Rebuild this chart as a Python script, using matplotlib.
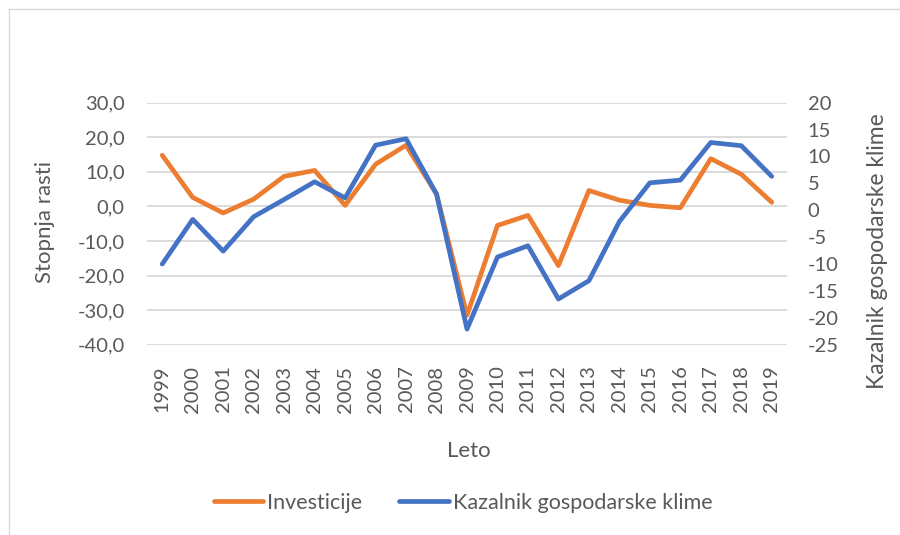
import matplotlib
matplotlib.use("Agg")
import matplotlib.pyplot as plt
from matplotlib.lines import Line2D
from matplotlib.ticker import FuncFormatter, MultipleLocator

plt.rcParams['font.family'] = ['Lato', 'DejaVu Sans']

years = ['1999', '2000', '2001', '2002', '2003', '2004', '2005', '2006', '2007', '2008',
         '2009', '2010', '2011', '2012', '2013', '2014', '2015', '2016', '2017', '2018', '2019']
investicije = [14.8, 2.6, -1.9, 2.1, 8.7, 10.4, 0.3, 12.2, 17.7, 3.6,
               -31.5, -5.5, -2.6, -17.1, 4.6, 1.8, 0.3, -0.4, 13.8, 9.3, 1.2]
kazalnik = [-10.0, -1.7, -7.6, -1.2, 2.0, 5.3, 2.3, 12.1, 13.3, 3.0,
            -22.1, -8.7, -6.6, -16.5, -13.1, -2.1, 5.1, 5.6, 12.6, 12.0, 6.3]

orange = '#ED7D31'
blue = '#4472C4'
txt = '#595959'
grid = '#D9D9D9'

W, H = 900, 535
fig = plt.figure(figsize=(9, 5.35), dpi=100)

# chart-area border (left and top edges visible)
fig.lines.append(Line2D([9 / W, 9 / W], [0, 1 - 8.5 / H], transform=fig.transFigure,
                        color='#D9D9D9', linewidth=1))
fig.lines.append(Line2D([9 / W, 1], [1 - 8.5 / H] * 2, transform=fig.transFigure,
                        color='#D9D9D9', linewidth=1))

left, right, top, bottom = 147, 787, 102.7, 344.7
ax = fig.add_axes([left / W, 1 - bottom / H, (right - left) / W, (bottom - top) / H])
ax2 = ax.twinx()

x = list(range(len(years)))
ax.plot(x, investicije, color=orange, linewidth=3.4, solid_capstyle='round', solid_joinstyle='round',
        label='Investicije', zorder=3)
ax2.plot(x, kazalnik, color=blue, linewidth=3.4, solid_capstyle='round', solid_joinstyle='round',
         label='Kazalnik gospodarske klime', zorder=3)

ax.set_xlim(-0.5, len(years) - 0.5)
ax.set_ylim(-40, 30)
ax2.set_ylim(-25, 20)
ax.yaxis.set_major_locator(MultipleLocator(10))
ax2.yaxis.set_major_locator(MultipleLocator(5))
ax.yaxis.set_major_formatter(FuncFormatter(lambda v, p: f"{v:.1f}".replace('.', ',')))
ax2.yaxis.set_major_formatter(FuncFormatter(lambda v, p: f"{int(round(v))}"))

ax.set_xticks(x)
ax.set_xticklabels(years, rotation=90)

ax.grid(axis='y', color=grid, linewidth=1.3)
ax.set_axisbelow(True)
for a in (ax, ax2):
    for s in a.spines.values():
        s.set_visible(False)
    a.tick_params(length=0, colors=txt, labelsize=14.5)
ax.tick_params(axis='y', pad=16)
ax2.tick_params(axis='y', pad=15)
ax.tick_params(axis='x', pad=15)

fig.text(45 / W, 1 - 222 / H, 'Stopnja rasti', rotation=90, ha='center', va='center',
         fontsize=16, color=txt)
fig.text(878 / W, 1 - 251 / H, 'Kazalnik gospodarske klime', rotation=90, ha='center', va='center',
         fontsize=16.5, color=txt)
fig.text(469 / W, 1 - 451 / H, 'Leto', ha='center', va='center', fontsize=16, color=txt)

h1, l1 = ax.get_legend_handles_labels()
h2, l2 = ax2.get_legend_handles_labels()
leg = fig.legend(h1 + h2, l1 + l2, loc='center', bbox_to_anchor=(463 / W, 1 - 503 / H), ncol=2,
                 frameon=False, fontsize=15.5, handlelength=2.3, handletextpad=0.2, columnspacing=1.7)
for t in leg.get_texts():
    t.set_color(txt)

fig.savefig('out.png', dpi=100)
